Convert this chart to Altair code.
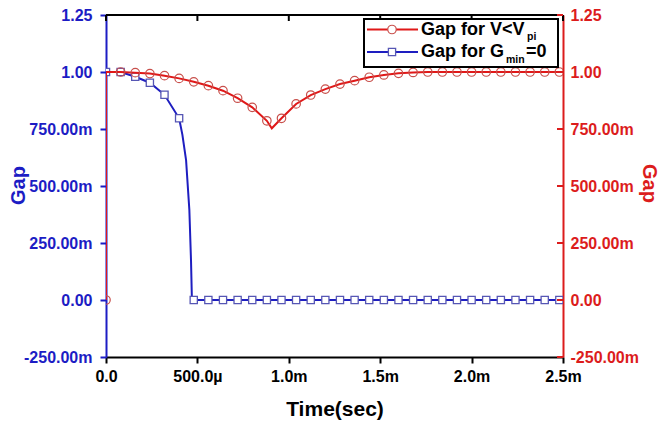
import altair as alt
import pandas as pd

# ---------------- data ----------------
# marker times, ms
t_markers = [0.00, 0.08, 0.16, 0.24, 0.32, 0.40, 0.48, 0.56, 0.64, 0.72,
             0.80, 0.88, 0.96, 1.04, 1.12, 1.20, 1.28, 1.36, 1.44, 1.52,
             1.60, 1.68, 1.76, 1.84, 1.92, 2.00, 2.08, 2.16, 2.24, 2.32,
             2.40, 2.48]
red_marker_vals = [0.000, 1.000, 0.997, 0.993, 0.984, 0.972, 0.957, 0.940, 0.918, 0.885,
                   0.845, 0.786, 0.797, 0.860, 0.899, 0.925, 0.947, 0.962, 0.977, 0.987,
                   0.994, 0.998, 1.000, 1.000, 1.000, 1.000, 1.000, 1.000, 1.000, 1.000,
                   1.000, 1.000]
blue_marker_vals = [1.000, 1.000, 0.979, 0.953, 0.900, 0.797, 0.000, 0.000, 0.000, 0.000,
                    0.000, 0.000, 0.000, 0.000, 0.000, 0.000, 0.000, 0.000, 0.000, 0.000,
                    0.000, 0.000, 0.000, 0.000, 0.000, 0.000, 0.000, 0.000, 0.000, 0.000,
                    0.000, 0.000]

# line traces (markers plus points)
red_line_t = [0.00, 0.00, 0.08, 0.16, 0.24, 0.32, 0.40, 0.48, 0.56, 0.64, 0.72,
              0.80, 0.88, 0.907, 0.96, 1.04, 1.12, 1.20, 1.28, 1.36, 1.44, 1.52,
              1.60, 1.68, 1.76, 1.84, 1.92, 2.00, 2.08, 2.16, 2.24, 2.32,
              2.40, 2.48, 2.50]
red_line_v = [0.000, 1.000, 1.000, 0.997, 0.993, 0.984, 0.972, 0.957, 0.940, 0.918, 0.885,
              0.845, 0.786, 0.753, 0.797, 0.860, 0.899, 0.925, 0.947, 0.962, 0.977, 0.987,
              0.994, 0.998, 1.000, 1.000, 1.000, 1.000, 1.000, 1.000, 1.000, 1.000,
              1.000, 1.000, 1.000]
blue_line_t = [0.00, 0.08, 0.16, 0.24, 0.32, 0.40, 0.418, 0.438, 0.456, 0.465, 0.470,
               0.48, 0.56, 0.64, 0.72, 0.80, 0.88, 0.96, 1.04, 1.12, 1.20, 1.28, 1.36,
               1.44, 1.52, 1.60, 1.68, 1.76, 1.84, 1.92, 2.00, 2.08, 2.16, 2.24, 2.32,
               2.40, 2.48, 2.50]
blue_line_v = [1.000, 1.000, 0.979, 0.953, 0.900, 0.797, 0.724, 0.614, 0.395, 0.175, 0.000,
               0.000, 0.000, 0.000, 0.000, 0.000, 0.000, 0.000, 0.000, 0.000, 0.000, 0.000, 0.000,
               0.000, 0.000, 0.000, 0.000, 0.000, 0.000, 0.000, 0.000, 0.000, 0.000, 0.000, 0.000,
               0.000, 0.000, 0.000]

x_tick_values = [0.0, 0.5, 1.0, 1.5, 2.0, 2.5]
x_tick_labels = ["0.0", "500.0µ", "1.0m", "1.5m", "2.0m", "2.5m"]
y_tick_values = [-0.25, 0.0, 0.25, 0.5, 0.75, 1.0, 1.25]
y_tick_labels = ["-250.00m", "0.00", "250.00m", "500.00m", "750.00m", "1.00", "1.25"]

x_title = "Time(sec)"
y_title = "Gap"
legend_red_main, legend_red_sub = "Gap for V<V", "pi"
legend_blue_main, legend_blue_sub, legend_blue_tail = "Gap for G", "min", "=0"

# ---------------- styling ----------------
W, H = 457, 342
FONT = "Liberation Sans"
BLUE = "#1c1cc4"
RED = "#dc1c1c"
BLUE_LINE = "#1e1ec0"
RED_LINE = "#e01818"
SQ_STROKE = "#5656b4"
CIRC_STROKE = "#c8504c"


def label_expr(vals, labs):
    parts = [f"abs(datum.value - ({v})) < 1e-9 ? '{l}'" for v, l in zip(vals, labs)]
    return " : ".join(parts) + " : ''"


xs = alt.Scale(domain=[0, 2.5], nice=False, zero=False)
ys = alt.Scale(domain=[-0.25, 1.25], nice=False, zero=False)

red_df = pd.DataFrame({"t": red_line_t, "v": red_line_v, "i": list(range(len(red_line_t)))})
blue_df = pd.DataFrame({"t": blue_line_t, "v": blue_line_v, "i": list(range(len(blue_line_t)))})
mark_df = pd.DataFrame({"t": t_markers, "red": red_marker_vals, "blue": blue_marker_vals})
ytick_df = pd.DataFrame({"v": y_tick_values})
xtick_df = pd.DataFrame({"t": x_tick_values})
one = pd.DataFrame({"k": [0]})

x_axis = alt.Axis(values=x_tick_values, labelExpr=label_expr(x_tick_values, x_tick_labels),
                  title=x_title, grid=False, domainColor="black", domainWidth=2,
                  tickColor="black", tickWidth=2, tickSize=6, labelColor="black",
                  labelFont=FONT, labelFontSize=16, labelFontWeight="bold", labelPadding=5,
                  labelFlush=False, labelOverlap=False,
                  titleFont=FONT, titleFontSize=21, titleFontWeight="bold", titleColor="black",
                  titleY=52, titleBaseline="middle")

left_axis = alt.Axis(orient="left", values=y_tick_values,
                     labelExpr=label_expr(y_tick_values, y_tick_labels),
                     title=y_title, grid=False, domainColor=BLUE, domainWidth=2,
                     tickColor=BLUE, tickWidth=2, tickSize=6, labelColor=BLUE,
                     labelFont=FONT, labelFontSize=16, labelFontWeight="bold", labelPadding=8,
                     labelFlush=False, labelOverlap=False,
                     titleFont=FONT, titleFontSize=20, titleFontWeight="bold", titleColor=BLUE,
                     titleAngle=270, titleX=-88, titleY=170, titleAlign="center",
                     titleBaseline="middle")

right_axis = alt.Axis(orient="right", values=y_tick_values,
                      labelExpr=label_expr(y_tick_values, y_tick_labels),
                      title=y_title, grid=False, domainColor=RED, domainWidth=2,
                      ticks=False, tickSize=0, labelColor=RED,
                      labelFont=FONT, labelFontSize=16, labelFontWeight="bold", labelPadding=7,
                      labelFlush=False, labelOverlap=False,
                      titleFont=FONT, titleFontSize=20, titleFontWeight="bold", titleColor=RED,
                      titleAngle=90, titleX=85, titleY=168, titleAlign="center",
                      titleBaseline="middle")

blue_line = alt.Chart(blue_df).mark_line(color=BLUE_LINE, strokeWidth=2, clip=True).encode(
    x=alt.X("t:Q", scale=xs, axis=x_axis),
    y=alt.Y("v:Q", scale=ys, axis=left_axis),
    order=alt.Order("i:Q"),
)
blue_pts = alt.Chart(mark_df).mark_point(shape="square", filled=True, fill="white",
                                         stroke=SQ_STROKE, strokeWidth=1.3, size=52,
                                         opacity=1, clip=True).encode(
    x=alt.X("t:Q", scale=xs, axis=x_axis),
    y=alt.Y("blue:Q", scale=ys, axis=left_axis),
)
blue_layer = alt.layer(blue_line, blue_pts)

red_line = alt.Chart(red_df).mark_line(color=RED_LINE, strokeWidth=2, clip=True).encode(
    x=alt.X("t:Q", scale=xs, axis=None),
    y=alt.Y("v:Q", scale=ys, axis=right_axis),
    order=alt.Order("i:Q"),
)
red_pts = alt.Chart(mark_df).mark_point(shape="circle", filled=False, stroke=CIRC_STROKE,
                                        strokeWidth=1.2, size=72, opacity=1, clip=True).encode(
    x=alt.X("t:Q", scale=xs, axis=None),
    y=alt.Y("red:Q", scale=ys, axis=right_axis),
)
red_layer = alt.layer(red_line, red_pts)

# frame: top border and inward ticks on top / right
top_line = alt.Chart(one).mark_rule(color="black", strokeWidth=2).encode(
    x=alt.value(0), x2=alt.value(W), y=alt.value(0))
top_ticks = alt.Chart(xtick_df).mark_rule(color="black", strokeWidth=2).encode(
    x=alt.X("t:Q", scale=xs, axis=None), y=alt.value(0), y2=alt.value(6))
right_ticks = alt.Chart(ytick_df).mark_rule(color=RED, strokeWidth=2).encode(
    y=alt.Y("v:Q", scale=ys, axis=None), x=alt.value(W - 6), x2=alt.value(W))

# legend (drawn by hand to allow subscripts)
LX0, LX1, LY0, LY1 = 258, 452, 4, 52
leg_box = alt.Chart(one).mark_rect(fill="white", stroke="black", strokeWidth=2).encode(
    x=alt.value(LX0), x2=alt.value(LX1), y=alt.value(LY0), y2=alt.value(LY1))
leg_red_line = alt.Chart(one).mark_rule(color=RED_LINE, strokeWidth=2).encode(
    x=alt.value(261), x2=alt.value(312), y=alt.value(14.5))
leg_blue_line = alt.Chart(one).mark_rule(color=BLUE_LINE, strokeWidth=2).encode(
    x=alt.value(261), x2=alt.value(312), y=alt.value(37))
leg_red_pt = alt.Chart(one).mark_point(shape="circle", filled=True, fill="white",
                                       stroke=CIRC_STROKE, strokeWidth=1.2, size=72,
                                       opacity=1).encode(x=alt.value(286), y=alt.value(14.5))
leg_blue_pt = alt.Chart(one).mark_point(shape="square", filled=True, fill="white",
                                        stroke=SQ_STROKE, strokeWidth=1.3, size=52,
                                        opacity=1).encode(x=alt.value(286), y=alt.value(37))


def txt(s, x, y, size):
    return alt.Chart(one).mark_text(text=s, font=FONT, fontSize=size, fontWeight="bold",
                                    align="left", baseline="alphabetic", color="black").encode(
        x=alt.value(x), y=alt.value(y))


leg_texts = [
    txt(legend_red_main, 315, 19.5, 18),
    txt(legend_red_sub, 421, 24.5, 10.5),
    txt(legend_blue_main, 315, 42, 18),
    txt(legend_blue_sub, 400, 48, 10.5),
    txt(legend_blue_tail, 420, 42, 18),
]

chart = alt.layer(
    blue_layer, red_layer, top_line, top_ticks, right_ticks,
    leg_box, leg_red_line, leg_blue_line, leg_red_pt, leg_blue_pt, *leg_texts
).resolve_scale(y="shared", x="shared").resolve_axis(
    y="independent", x="independent"
).properties(
    width=W, height=H,
    autosize=alt.AutoSizeParams(type="none"),
    padding={"left": 106, "top": 15, "right": 99, "bottom": 71},
    background="white",
).configure_view(stroke=None)

chart.save("out.html", embed_options={"renderer": "svg", "actions": False})
